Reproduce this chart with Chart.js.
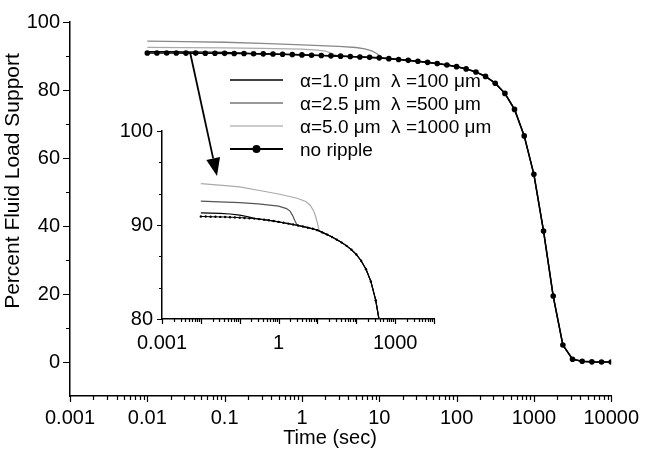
<!DOCTYPE html>
<html lang="en">
<head>
<meta charset="UTF-8">
<title>Percent Fluid Load Support</title>
<script src="https://cdn.jsdelivr.net/npm/chart.js"></script>
<style>
    * { margin: 0; padding: 0; box-sizing: border-box; }
    body { background: #fff; width: 649px; height: 450px; overflow: hidden; }
    .wrap { position: relative; width: 649px; height: 450px; }
    #mainChart { position: absolute; left: 0; top: 0; }
    #insetChart { position: absolute; left: 95px; top: 110px; }
</style>
</head>
<body>
<div class="wrap">
    <canvas id="mainChart" width="649" height="450"></canvas>
    <canvas id="insetChart" width="350" height="250"></canvas>
</div>

<script>
    // data (time in sec, load support in %)
    const noRippleTime = [0.01, 0.0133, 0.0178, 0.0237, 0.0316, 0.0422, 0.0562, 0.075,
        0.1, 0.133, 0.178, 0.237, 0.316, 0.422, 0.562, 0.75,
        1, 1.33, 1.78, 2.37, 3.16, 4.22, 5.62, 7.5,
        10, 13.3, 17.8, 23.7, 31.6, 42.2, 56.2, 75,
        100, 133, 178, 237, 316, 422, 562, 750,
        1000, 1334, 1778, 2371, 3162, 4217, 5623, 7499, 10000];
    const noRippleLoad = [90.9, 90.9, 90.88, 90.87, 90.86, 90.85, 90.83, 90.81,
        90.78, 90.75, 90.72, 90.68, 90.63, 90.57, 90.5, 90.42,
        90.33, 90.24, 90.15, 90.05, 89.95, 89.84, 89.72, 89.6,
        89.45, 89.22, 88.98, 88.72, 88.44, 88.13, 87.78, 87.37,
        86.87, 86.2, 85.3, 84.0, 82.0, 79.0, 74.3, 66.5,
        55.2, 38.5, 19.4, 5.0, 0.8, 0.2, 0.05, 0, 0];

    // ripple curves until they join the no-ripple curve
    const ripple1Time = [0.01, 0.0178, 0.0316, 0.0562, 0.1, 0.178, 0.237];
    const ripple1Load = [91.3, 91.27, 91.23, 91.17, 91.05, 90.85, 90.72];
    const ripple2Time = [0.01, 0.03, 0.1, 0.3, 1, 1.6, 2.0, 2.3, 2.6, 2.9];
    const ripple2Load = [92.55, 92.47, 92.38, 92.24, 92.0, 91.75, 91.45, 91.0, 90.5, 90.1];
    const ripple3Time = [0.01, 0.03, 0.1, 0.3, 1, 3, 5, 6.5, 8, 9, 10, 11];
    const ripple3Load = [94.4, 94.25, 94.05, 93.7, 93.3, 92.85, 92.5, 92.1, 91.5, 90.9, 90.2, 89.4];

    const seriesNames = ['\u03b1=1.0 \u03bcm  \u03bb =100 \u03bcm', '\u03b1=2.5 \u03bcm  \u03bb =500 \u03bcm',
        '\u03b1=5.0 \u03bcm  \u03bb =1000 \u03bcm', 'no ripple'];
    const xTitle = 'Time (sec)';
    const yTitle = 'Percent Fluid Load Support';

    const mainXTicks = [0.001, 0.01, 0.1, 1, 10, 100, 1000, 10000];
    const mainYTicks = [0, 20, 40, 60, 80, 100];
    const mainYMinor = [10, 30, 50, 70, 90];
    const insetXTicks = [0.001, 1, 1000];
    const insetYTicks = [80, 90, 100];
    const insetYMinor = [83.33, 86.67, 93.33, 96.67];

    const FONT = '"Liberation Sans", Arial, sans-serif';

    function points(times, loads) {
        return times.map((t, i) => ({ x: t, y: loads[i] }));
    }

    // ripple curve followed by the no-ripple curve after it merges
    function withTail(times, loads) {
        const last = times[times.length - 1];
        return points(times, loads).concat(points(noRippleTime, noRippleLoad).filter(p => p.x > last));
    }

    function decades(lo, hi) {
        const out = [];
        for (let e = lo; e <= hi; e++) out.push(Math.pow(10, e));
        return out;
    }

    function logMinors(lo, hi) {
        const out = [];
        for (let e = lo; e < hi; e++) {
            for (let m = 2; m <= 9; m++) out.push(m * Math.pow(10, e));
        }
        return out;
    }

    // tick marks drawn by hand so majors and minors can have different lengths
    const tickMarks = {
        id: 'tickMarks',
        afterDraw(chart, args, opts) {
            const ctx = chart.ctx;
            const xs = chart.scales.x;
            const ys = chart.scales.y;
            ctx.save();
            ctx.strokeStyle = '#000';
            ctx.lineWidth = 1.2;
            ctx.beginPath();
            opts.xMajor.forEach(v => {
                const px = Math.round(xs.getPixelForValue(v)) + 0.5;
                ctx.moveTo(px, xs.top);
                ctx.lineTo(px, xs.top + opts.xMajorLen);
            });
            opts.xMinor.forEach(v => {
                const px = Math.round(xs.getPixelForValue(v)) + 0.5;
                ctx.moveTo(px, xs.top);
                ctx.lineTo(px, xs.top + opts.xMinorLen);
            });
            opts.yMajor.forEach(v => {
                const py = Math.round(ys.getPixelForValue(v)) + 0.5;
                ctx.moveTo(ys.right, py);
                ctx.lineTo(ys.right - opts.yMajorLen, py);
            });
            opts.yMinor.forEach(v => {
                const py = Math.round(ys.getPixelForValue(v)) + 0.5;
                ctx.moveTo(ys.right, py);
                ctx.lineTo(ys.right - opts.yMinorLen, py);
            });
            ctx.stroke();
            ctx.restore();
        }
    };

    // axis titles, legend block and the arrow pointing into the inset
    const annotate = {
        id: 'annotate',
        afterDraw(chart) {
            const ctx = chart.ctx;
            ctx.save();
            ctx.fillStyle = '#000';
            ctx.textAlign = 'center';
            ctx.textBaseline = 'middle';
            ctx.font = '20px ' + FONT;
            ctx.fillText(xTitle, 330, 438);
            ctx.save();
            ctx.translate(13, 181);
            ctx.rotate(-Math.PI / 2);
            ctx.font = '21px ' + FONT;
            ctx.fillText(yTitle, 0, 0);
            ctx.restore();

            const rows = [
                { y: 80, color: '#000', width: 1.5 },
                { y: 103, color: '#777', width: 1.5 },
                { y: 126, color: '#bbb', width: 1.5 },
                { y: 149, color: '#000', width: 2, dot: true }
            ];
            ctx.font = '19px ' + FONT;
            ctx.textAlign = 'left';
            rows.forEach((row, i) => {
                ctx.strokeStyle = row.color;
                ctx.lineWidth = row.width;
                ctx.beginPath();
                ctx.moveTo(230, row.y);
                ctx.lineTo(283, row.y);
                ctx.stroke();
                if (row.dot) {
                    ctx.fillStyle = '#000';
                    ctx.beginPath();
                    ctx.arc(256.5, row.y, 4, 0, Math.PI * 2);
                    ctx.fill();
                }
                ctx.fillStyle = '#000';
                ctx.fillText(seriesNames[i], 300, row.y + 2);
            });

            // arrow
            const x0 = 190, y0 = 52, x1 = 217, y1 = 176;
            const len = Math.hypot(x1 - x0, y1 - y0);
            const ux = (x1 - x0) / len, uy = (y1 - y0) / len;
            const bx = x1 - ux * 18, by = y1 - uy * 18;
            ctx.strokeStyle = '#000';
            ctx.lineWidth = 1.8;
            ctx.beginPath();
            ctx.moveTo(x0, y0);
            ctx.lineTo(bx, by);
            ctx.stroke();
            ctx.beginPath();
            ctx.moveTo(x1, y1);
            ctx.lineTo(bx - uy * 7, by + ux * 7);
            ctx.lineTo(bx + uy * 7, by - ux * 7);
            ctx.closePath();
            ctx.fill();
            ctx.restore();
        }
    };

    function lineSet(label, data, color, width, radius) {
        return {
            label: label,
            data: data,
            showLine: true,
            borderColor: color,
            backgroundColor: color,
            borderWidth: width,
            pointRadius: radius,
            pointBorderWidth: 0,
            pointBackgroundColor: color
        };
    }

    function axes(o) {
        return {
            x: {
                type: 'logarithmic',
                min: 0.001,
                max: 10000,
                grid: { display: false, drawTicks: false },
                border: { display: true, color: '#000', width: 1.5 },
                afterBuildTicks: s => { s.ticks = o.xTicks.map(v => ({ value: v })); },
                afterFit: s => { s.height = o.xHeight; },
                ticks: {
                    color: '#000',
                    font: { size: 20, family: FONT },
                    padding: o.xPad,
                    autoSkip: false,
                    maxRotation: 0,
                    callback: v => String(v)
                }
            },
            y: {
                min: o.yMin,
                max: o.yMax,
                grid: { display: false, drawTicks: false },
                border: { display: true, color: '#000', width: 1.5 },
                afterBuildTicks: s => { s.ticks = o.yTicks.map(v => ({ value: v })); },
                afterFit: s => { s.width = o.yWidth; },
                ticks: {
                    color: '#000',
                    font: { size: 20, family: FONT },
                    padding: o.yPad
                }
            }
        };
    }

    Chart.defaults.font.family = FONT;

    new Chart(document.getElementById('mainChart'), {
        type: 'scatter',
        data: {
            datasets: [
                lineSet(seriesNames[3], points(noRippleTime, noRippleLoad), '#000', 1.6, 2.8),
                lineSet(seriesNames[0], withTail(ripple1Time, ripple1Load), '#000', 1.2, 0),
                lineSet(seriesNames[1], withTail(ripple2Time, ripple2Load), '#aaa', 1.3, 0),
                lineSet(seriesNames[2], withTail(ripple3Time, ripple3Load), '#888', 1.3, 0)
            ]
        },
        plugins: [tickMarks, annotate],
        options: {
            responsive: false,
            animation: false,
            devicePixelRatio: 1,
            events: [],
            layout: { autoPadding: false, padding: { left: 0, top: 10, right: 37, bottom: 0 } },
            plugins: {
                legend: { display: false },
                tooltip: { enabled: false },
                tickMarks: {
                    xMajor: decades(-3, 4), xMinor: logMinors(-3, 4), xMajorLen: 6, xMinorLen: 4,
                    yMajor: mainYTicks, yMinor: mainYMinor, yMajorLen: 7, yMinorLen: 4
                }
            },
            scales: axes({
                xTicks: mainXTicks, xHeight: 54, xPad: 10,
                yMin: -10, yMax: 100, yTicks: mainYTicks, yWidth: 70, yPad: 10
            })
        }
    });

    new Chart(document.getElementById('insetChart'), {
        type: 'scatter',
        data: {
            datasets: [
                lineSet(seriesNames[3], points(noRippleTime, noRippleLoad), '#000', 1, 1.2),
                lineSet(seriesNames[0], withTail(ripple1Time, ripple1Load), '#000', 1.2, 0),
                lineSet(seriesNames[1], withTail(ripple2Time, ripple2Load), '#555', 1.2, 0),
                lineSet(seriesNames[2], withTail(ripple3Time, ripple3Load), '#aaa', 1.2, 0)
            ]
        },
        plugins: [tickMarks],
        options: {
            responsive: false,
            animation: false,
            devicePixelRatio: 1,
            events: [],
            layout: { autoPadding: false, padding: { left: 0, top: 14, right: 11, bottom: 0 } },
            plugins: {
                legend: { display: false },
                tooltip: { enabled: false },
                tickMarks: {
                    xMajor: decades(-3, 4), xMinor: logMinors(-3, 4), xMajorLen: 5, xMinorLen: 3,
                    yMajor: insetYTicks, yMinor: insetYMinor, yMajorLen: 5, yMinorLen: 3
                }
            },
            scales: axes({
                xTicks: insetXTicks, xHeight: 41, xPad: 12,
                yMin: 80, yMax: 100, yTicks: insetYTicks, yWidth: 67, yPad: 9
            })
        }
    });
</script>
</body>
</html>
